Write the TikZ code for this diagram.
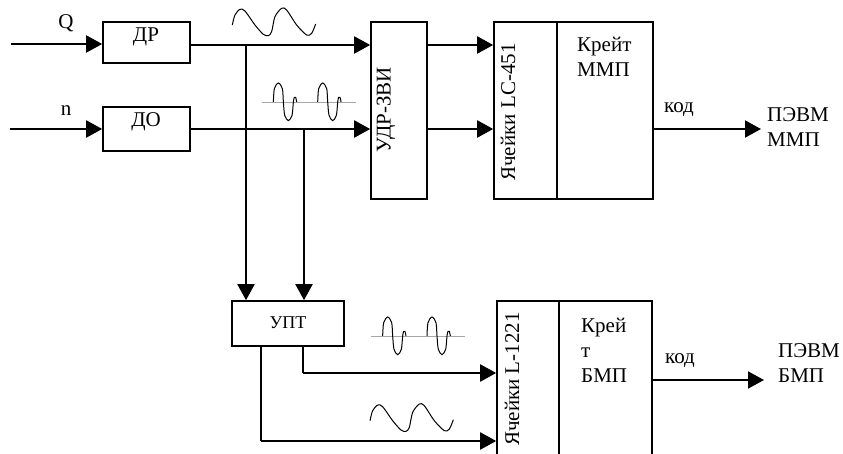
\documentclass[tikz,border=0pt]{standalone}
\usepackage{fontspec}
\setmainfont{Liberation Serif}
\usetikzlibrary{arrows.meta}
\tikzset{
    blockbox/.style={draw,line width=1.6pt,inner sep=0pt},
    wire/.style={line width=2pt},
    arrowwire/.style={wire,-{Triangle[length=16pt,width=17pt]}},
    txt/.style={inner sep=0pt,align=left,font=\fontsize{21}{25}\selectfont},
    sinewave/.pic={
        \draw[line width=1pt,scale=1/3] plot[smooth] coordinates {(0,0) (8,-30) (23,-47) (38,-42) (68,0) (93,28) (108,32) (118,20) (128,-25) (148,-50) (163,-45) (193,0) (223,30) (238,25) (250,-3)};
    },
    pulsewave/.pic={
        \draw[gray!70,line width=0.8pt,scale=1/3] (0,0) -- (283,0);
        \foreach \n in {0,133}{
            \draw[line width=1pt,scale=1/3,xshift=\n*1pt] plot[smooth] coordinates {(35,0) (38,-40) (50,-57) (62,-40) (65,0) (69,40) (80,56) (91,40) (95,0) (98,-14) (102,-14) (105,0)};
        }
    }
}
\begin{document}
\begin{tikzpicture}[x=1pt,y=-1pt]
    \clip (0,0) rectangle (843,454);
    \node[blockbox,minimum width=87pt,minimum height=41pt] (dr) at (146.5,42.5) {};
    \node[blockbox,minimum width=87pt,minimum height=44pt] (do) at (146.5,129) {};
    \node[blockbox,minimum width=56pt,minimum height=177pt] (udr) at (399,110.5) {};
    \node[blockbox,minimum width=63pt,minimum height=177pt] (lc) at (525.5,110.5) {};
    \node[blockbox,minimum width=96pt,minimum height=177pt] (mmp) at (605,110.5) {};
    \node[blockbox,minimum width=112pt,minimum height=45pt] (upt) at (288,323.5) {};
    \node[blockbox,minimum width=62pt,minimum height=180pt] (l) at (528,391) {};
    \node[blockbox,minimum width=93pt,minimum height=180pt] (bmp) at (605.5,391) {};

    \node[txt] (drtxt) at (146,37) {ДР};
    \node[txt] (dotxt) at (146,122) {ДО};
    \node[txt,rotate=90] (udrtxt) at (386,110) {УДР-ЗВИ};
    \node[txt,rotate=90] (lctxt) at (508,112) {Ячейки LC-451};
    \node[txt,rotate=90] (ltxt) at (512,379) {Ячейки L-1221};
    \node[txt,anchor=west] (mmptxt) at (577,57) {Крейт\\ММП};
    \node[txt,anchor=west] (bmptxt) at (581,350) {Крей\\т\\БМП};
    \node[txt,font=\fontsize{18}{22}\selectfont] (upttxt) at (288,323) {УПТ};
    \node[txt] (qtxt) at (66,23) {Q};
    \node[txt] (ntxt) at (66,111) {n};
    \node[txt] (kodm) at (679,110) {код};
    \node[txt] (kodb) at (680,361) {код};
    \node[txt,anchor=west] (pcm) at (767,127.5) {ПЭВМ\\ММП};
    \node[txt,anchor=west] (pcb) at (778,363) {ПЭВМ\\БМП};

    \coordinate (qin) at (11,44);
    \coordinate (nin) at (10,129);
    \coordinate (rbus) at (246,45);
    \coordinate (obus) at (304,129);
    \coordinate (pout) at (303,373);
    \coordinate (sout) at (261,441);
    \coordinate (kodmend) at (761,129);
    \coordinate (kodbend) at (764,380);

    \draw[arrowwire] (qin) -- (qin -| dr.west);
    \draw[arrowwire] (nin) -- (nin -| do.west);
    \draw[arrowwire] (dr.east |- rbus) -- (udr.west |- rbus);
    \draw[arrowwire] (do.east |- obus) -- (udr.west |- obus);
    \draw[arrowwire] (rbus) -- (rbus |- upt.north);
    \draw[arrowwire] (obus) -- (obus |- upt.north);
    \draw[arrowwire] (udr.east |- rbus) -- (lc.west |- rbus);
    \draw[arrowwire] (udr.east |- obus) -- (lc.west |- obus);
    \draw[arrowwire] (mmp.east |- kodmend) -- (kodmend);
    \draw[arrowwire] (bmp.east |- kodbend) -- (kodbend);
    \draw[wire] (pout |- upt.south) -- (pout);
    \draw[wire] (sout |- upt.south) -- (sout);
    \draw[arrowwire] (pout) -- (l.west |- pout);
    \draw[arrowwire] (sout) -- (l.west |- sout);

    \pic at (232.3,25) {sinewave};
    \pic at (370,420.7) {sinewave};
    \pic at (261.7,102) {pulsewave};
    \pic at (371,336) {pulsewave};
\end{tikzpicture}
\end{document}
